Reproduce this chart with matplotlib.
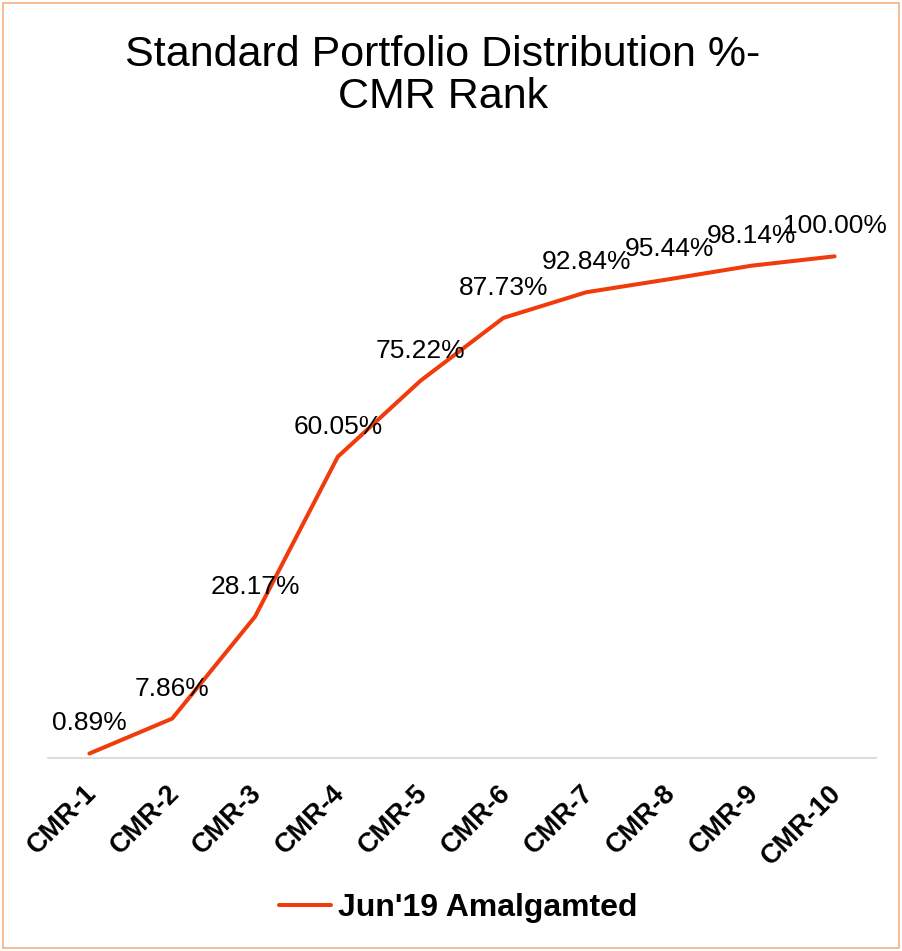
import matplotlib.pyplot as plt
import matplotlib.transforms as mtransforms
from matplotlib.patches import Rectangle

# Datos
categorias = ['CMR-1', 'CMR-2', 'CMR-3', 'CMR-4', 'CMR-5',
              'CMR-6', 'CMR-7', 'CMR-8', 'CMR-9', 'CMR-10']
valores = [0.89, 7.86, 28.17, 60.05, 75.22, 87.73, 92.84, 95.44, 98.14, 100.00]
serie = "Jun'19 Amalgamted"
titulo = 'Standard Portfolio Distribution %-\nCMR Rank'

plt.rcParams['font.family'] = ['Liberation Sans', 'DejaVu Sans']

fig = plt.figure(figsize=(9.02, 9.51), dpi=100)
ax = fig.add_axes([48 / 902, 193 / 951, 828 / 902, 602 / 951])

x = range(len(categorias))
ax.plot(x, valores, color='#F03C0C', linewidth=2.9, label=serie,
        solid_capstyle='round')

# Etiquetas de datos
for i, v in zip(x, valores):
    ax.annotate(f'{v:.2f}%', (i, v), xytext=(0, 13), textcoords='offset points',
                ha='center', va='bottom', fontsize=19, color='#000000')

ax.set_xlim(-0.5, len(categorias) - 0.5)
ax.set_ylim(0, 120)
ax.set_yticks([])
ax.set_xticks(list(x))
ax.set_xticklabels(categorias, rotation=45, ha='right', rotation_mode='anchor',
                   fontsize=19.5, fontweight='bold')
ax.tick_params(axis='x', length=0, pad=16)
desplaz = mtransforms.ScaledTranslation(-6 / 100, 0, fig.dpi_scale_trans)
for lbl in ax.get_xticklabels():
    lbl.set_transform(lbl.get_transform() + desplaz)

for lado in ['top', 'right', 'left']:
    ax.spines[lado].set_visible(False)
ax.spines['bottom'].set_color('#D9D9D9')
ax.spines['bottom'].set_linewidth(1.3)

fig.text(443 / 902, 1 - 76 / 951, titulo, ha='center', va='center',
         fontsize=31, linespacing=1.05)

leg = fig.legend(loc='center', bbox_to_anchor=(458 / 902, 1 - 908 / 951), frameon=False,
                 prop={'size': 23, 'weight': 'bold'}, handlelength=1.65,
                 handletextpad=0.2)

# Borde del gráfico
fig.patches.append(Rectangle((3 / 902, 3 / 951), 896 / 902, 945 / 951,
                             transform=fig.transFigure, fill=False,
                             edgecolor='#F4B183', linewidth=1.2))

fig.savefig('out.png', dpi=100)
